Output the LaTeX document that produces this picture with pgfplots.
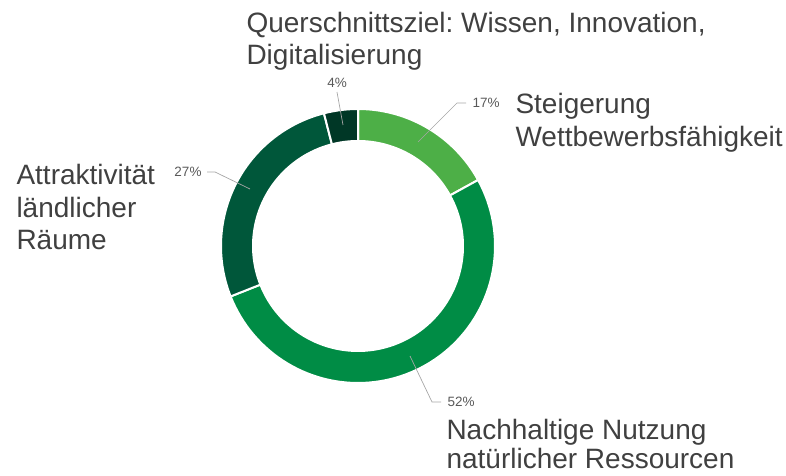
\documentclass[border=0pt]{standalone}
\usepackage{pgfplots}
\pgfplotsset{compat=1.18}
\usepackage{fontspec}
\setmainfont{Liberation Sans}
\frenchspacing
\definecolor{cA}{HTML}{4DAF47}
\definecolor{cB}{HTML}{008C45}
\definecolor{cC}{HTML}{00573A}
\definecolor{cD}{HTML}{003726}
\definecolor{txt}{HTML}{404040}
\definecolor{pct}{HTML}{595959}
\definecolor{lead}{HTML}{A6A6A6}
% shares (percent)
\def\vA{17}\def\vB{52}\def\vC{27}\def\vD{4}
\pgfmathsetmacro{\aA}{90}
\pgfmathsetmacro{\bA}{\aA-3.6*\vA}
\pgfmathsetmacro{\bB}{\bA-3.6*\vB}
\pgfmathsetmacro{\bC}{\bB-3.6*\vC}
\pgfmathsetmacro{\bD}{\bC-3.6*\vD}
\begin{document}
\begin{tikzpicture}
\begin{axis}[
  at={(0,0)}, anchor=south west,
  scale only axis, width=786bp, height=476bp,
  xmin=0, xmax=786, ymin=0, ymax=476,
  hide axis, clip=false,
  declare function={
    segang(\t,\a,\b)=ifthenelse(\t<=1,\a+\t*(\b-\a),ifthenelse(\t<=1.1,\b,ifthenelse(\t<=2.1,\b-(\t-1.1)*(\b-\a),\a)));
    segrad(\t)=ifthenelse(\t<=1,137,ifthenelse(\t<=1.1,137-(\t-1)*10*32,ifthenelse(\t<=2.1,105,105+(\t-2.1)*10*32)));
  },
  every node/.style={inner sep=0pt, outer sep=0pt},
]
\def\cx{358}\def\cy{230}
\addplot[fill=cA, draw=white, line width=2bp, domain=0:2.2, samples=177, variable=\t, mark=none]
  ({\cx+segrad(\t)*cos(segang(\t,\aA,\bA))},{\cy+segrad(\t)*sin(segang(\t,\aA,\bA))});
\addplot[fill=cB, draw=white, line width=2bp, domain=0:2.2, samples=177, variable=\t, mark=none]
  ({\cx+segrad(\t)*cos(segang(\t,\bA,\bB))},{\cy+segrad(\t)*sin(segang(\t,\bA,\bB))});
\addplot[fill=cC, draw=white, line width=2bp, domain=0:2.2, samples=177, variable=\t, mark=none]
  ({\cx+segrad(\t)*cos(segang(\t,\bB,\bC))},{\cy+segrad(\t)*sin(segang(\t,\bB,\bC))});
\addplot[fill=cD, draw=white, line width=2bp, domain=0:2.2, samples=177, variable=\t, mark=none]
  ({\cx+segrad(\t)*cos(segang(\t,\bC,\bD))},{\cy+segrad(\t)*sin(segang(\t,\bC,\bD))});
% leader lines
\addplot[lead, line width=0.7bp, mark=none] coordinates {(418,334) (457,373) (466,373)};
\addplot[lead, line width=0.7bp, mark=none] coordinates {(343,351) (337,384)};
\addplot[lead, line width=0.7bp, mark=none] coordinates {(207,304) (215,304) (250,287)};
\addplot[lead, line width=0.7bp, mark=none] coordinates {(410,120) (432,74) (441,74)};
% percent labels
\node[anchor=west, text=pct, font=\fontsize{13.5bp}{16bp}\selectfont] at (axis cs:469,373) {17\%};
\node[anchor=center, text=pct, font=\fontsize{13.5bp}{16bp}\selectfont] at (axis cs:337,393) {4\%};
\node[anchor=center, text=pct, font=\fontsize{13.5bp}{16bp}\selectfont] at (axis cs:188,304) {27\%};
\node[anchor=west, text=pct, font=\fontsize{13.5bp}{16bp}\selectfont] at (axis cs:444,74) {52\%};
% category labels
\tikzset{cat/.style={anchor=base west, text=txt, font=\fontsize{28bp}{33bp}\selectfont}}
\node[cat] at (axis cs:243,443) {Querschnittsziel: Wissen, Innovation,};
\node[cat] at (axis cs:243,411) {Digitalisierung};
\node[cat] at (axis cs:512,362) {Steigerung};
\node[cat] at (axis cs:512,329) {Wettbewerbsfähigkeit};
\node[cat] at (axis cs:13,291) {Attraktivität};
\node[cat] at (axis cs:13,258) {ländlicher};
\node[cat] at (axis cs:13,226) {Räume};
\node[cat] at (axis cs:443,36) {Nachhaltige Nutzung};
\node[cat] at (axis cs:443,7) {natürlicher Ressourcen};
\end{axis}
\pgfresetboundingbox
\path (0,0) rectangle (786bp,476bp);
\end{tikzpicture}
\end{document}
